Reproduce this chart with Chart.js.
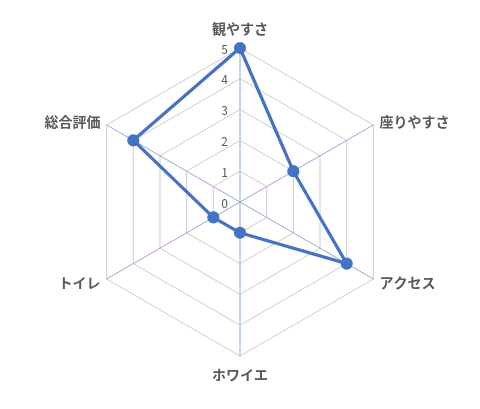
<!DOCTYPE html>
<html>
<head>
<meta charset="utf-8">
<script src="https://cdn.jsdelivr.net/npm/chart.js@4"></script>
<style>
  html, body { margin: 0; padding: 0; background: #fff; }
  #wrap { width: 480px; height: 409px; }
</style>
</head>
<body>
<div id="wrap"><canvas id="myChart" width="480" height="409"></canvas></div>
<script>
const categories = ['観やすさ', '座りやすさ', 'アクセス', 'ホワイエ', 'トイレ', '総合評価'];
const scores = [5, 2, 4, 1, 1, 4];
const tickValues = [0, 1, 2, 3, 4, 5];

// labels and ticks drawn by hand so they sit where the original has them
const labelPlugin = {
    id: 'labelPlugin',
    afterDraw(chart) {
        const scale = chart.scales.r;
        const ctx = chart.ctx;
        const r = scale.drawingArea;
        ctx.save();
        ctx.fillStyle = '#595959';
        ctx.font = 'bold 14px "Noto Sans CJK JP", sans-serif';
        ctx.textBaseline = 'middle';
        categories.forEach((label, i) => {
            const vertical = i === 0 || i === 3;
            const pos = scale.getPointPosition(i, r + (vertical ? 19 : 7));
            if (vertical) {
                ctx.textAlign = 'center';
            } else {
                ctx.textAlign = pos.x > scale.xCenter ? 'left' : 'right';
            }
            ctx.fillText(label, pos.x, pos.y);
        });

        ctx.font = '12px "Noto Sans CJK JP", sans-serif';
        ctx.textAlign = 'right';
        tickValues.forEach(v => {
            const d = scale.getDistanceFromCenterForValue(v);
            ctx.fillText(String(v), scale.xCenter - 12, scale.yCenter - d + 1);
        });
        ctx.restore();
    }
};

const ctx = document.getElementById('myChart').getContext('2d');
const chart = new Chart(ctx, {
    type: 'radar',
    data: {
        labels: categories,
        datasets: [{
            label: '評価',
            data: scores,
            borderColor: '#4472C4',
            backgroundColor: 'rgba(0,0,0,0)',
            borderWidth: 3.2,
            pointRadius: 4.5,
            pointBackgroundColor: '#4472C4',
            pointBorderColor: '#4472C4',
            fill: false
        }]
    },
    options: {
        responsive: false,
        animation: false,
        layout: {
            padding: { top: 48, bottom: 53, left: 0, right: 0 }
        },
        plugins: {
            legend: { display: false },
            tooltip: { enabled: false }
        },
        scales: {
            r: {
                min: 0,
                max: 5,
                ticks: { stepSize: 1, display: false },
                pointLabels: { display: false },
                grid: { color: '#CCCCCC', lineWidth: 1 },
                angleLines: { color: '#8FAADC', lineWidth: 1 }
            }
        }
    },
    plugins: [labelPlugin]
});
</script>
</body>
</html>
